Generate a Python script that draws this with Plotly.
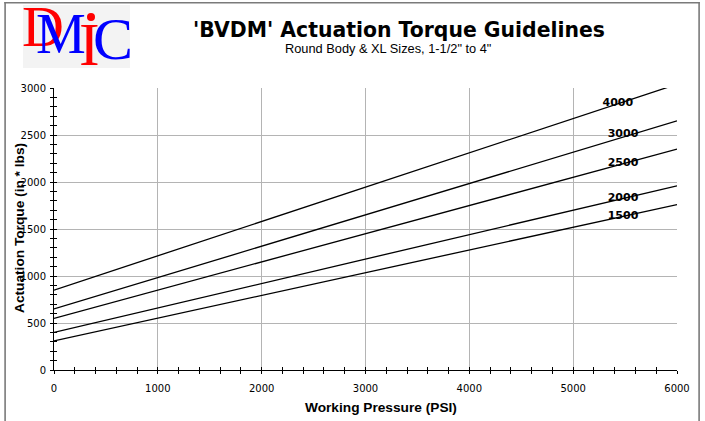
import plotly.graph_objects as go

# ---- data ----
pressure = [0, 6000]
series_names = ["4000", "3000", "2500", "2000", "1500"]
torque_4000 = [850, 3040]
torque_3000 = [650, 2650]
torque_2500 = [550, 2350]
torque_2000 = [400, 1960]
torque_1500 = [310, 1760]
label_x = [5430, 5480, 5480, 5480, 5480]
label_y = [2840, 2510, 2200, 1830, 1640]

x_ticks = [0, 1000, 2000, 3000, 4000, 5000, 6000]
y_ticks = [0, 500, 1000, 1500, 2000, 2500, 3000]

title = "'BVDM' Actuation Torque Guidelines"
subtitle = "Round Body & XL Sizes, 1-1/2\" to 4\""
x_title = "Working Pressure (PSI)"
y_title = "Actuation Torque (in * lbs)"

W, H = 705, 421
L, R, T, B = 54, 677, 88, 370


def px(x):
    return (x - L) / (R - L)


def py(y):
    return (B - y) / (B - T)


fig = go.Figure()
all_series = [torque_4000, torque_3000, torque_2500, torque_2000, torque_1500]
for name, vals in zip(series_names, all_series):
    fig.add_trace(go.Scatter(x=pressure, y=vals, mode="lines", name=name,
                             line=dict(color="black", width=1.3),
                             showlegend=False, hoverinfo="skip"))

fig.add_trace(go.Scatter(x=label_x, y=label_y, mode="text", text=series_names,
                         textfont=dict(family="DejaVu Sans", size=11, color="black",
                                       weight="bold"),
                         showlegend=False, hoverinfo="skip"))

# invisible trace for the overlay axes (inside ticks)
fig.add_trace(go.Scatter(x=[0], y=[0], xaxis="x2", yaxis="y2", mode="markers",
                         marker=dict(opacity=0), showlegend=False, hoverinfo="skip"))

tickfont = dict(family="DejaVu Sans", size=10, color="black")
grid = "#b4b4b4"

fig.update_layout(
    width=W, height=H,
    margin=dict(l=L, r=W - R, t=T, b=H - B, pad=0),
    paper_bgcolor="white", plot_bgcolor="white",
    xaxis=dict(range=[0, 6000], tickvals=x_ticks, showgrid=True, gridcolor=grid,
               gridwidth=1, showline=True, linecolor="black", linewidth=1,
               ticks="outside", ticklen=3, tickcolor="black", tickfont=tickfont,
               minor=dict(dtick=200, ticks="outside", ticklen=3, tickcolor="black",
                          showgrid=False),
               zeroline=False, fixedrange=True, ticklabelstandoff=6),
    yaxis=dict(range=[0, 3000], tickvals=y_ticks, showgrid=True, gridcolor=grid,
               gridwidth=1, showline=True, linecolor="black", linewidth=1,
               ticks="outside", ticklen=3, tickcolor="black", tickfont=tickfont,
               minor=dict(dtick=100, ticks="outside", ticklen=3, tickcolor="black",
                          showgrid=False),
               zeroline=False, fixedrange=True, ticklabelstandoff=2),
    xaxis2=dict(range=[0, 6000], overlaying="x", anchor="y", showgrid=False,
                showline=False, ticks="inside", ticklen=3, tickcolor="black",
                tickvals=x_ticks, showticklabels=False, zeroline=False,
                fixedrange=True,
                minor=dict(dtick=200, ticks="inside", ticklen=3, tickcolor="black")),
    yaxis2=dict(range=[0, 3000], overlaying="y", anchor="x", showgrid=False,
                showline=False, ticks="inside", ticklen=3, tickcolor="black",
                tickvals=y_ticks, showticklabels=False, zeroline=False,
                fixedrange=True,
                minor=dict(dtick=100, ticks="inside", ticklen=3, tickcolor="black")),
)

shapes = []
frame = "#7a7a7a"
# page frame as thin filled bars: left, top, right
for x0, x1, y0, y1 in [(4.3, 5.9, 2.0, 421.0), (4.3, 699.9, 2.0, 3.5),
                       (698.3, 699.9, 2.0, 421.0)]:
    shapes.append(dict(type="rect", xref="paper", yref="paper",
                       x0=px(x0), x1=px(x1), y0=py(y1), y1=py(y0),
                       fillcolor=frame, line=dict(width=0), layer="below"))
# logo background
shapes.append(dict(type="rect", xref="paper", yref="paper", x0=px(23), x1=px(130),
                   y0=py(68), y1=py(5), fillcolor="#f3f3f3", line=dict(width=0),
                   layer="below"))
# dot of the I
shapes.append(dict(type="circle", xref="paper", yref="paper", x0=px(87), x1=px(95),
                   y0=py(21), y1=py(13), fillcolor="#ff0000", line=dict(width=0)))
fig.update_layout(shapes=shapes)

ann = []
ann.append(dict(text="<b>" + title + "</b>", xref="paper", yref="paper",
                x=px(399), y=py(30), xanchor="center", yanchor="middle",
                showarrow=False, font=dict(family="DejaVu Sans", size=20.4, color="black")))
ann.append(dict(text=subtitle, xref="paper", yref="paper",
                x=px(388), y=py(48), xanchor="center", yanchor="middle",
                showarrow=False, font=dict(family="Liberation Sans", size=12.8, color="black")))
ann.append(dict(text="<b>" + x_title + "</b>", xref="paper", yref="paper",
                x=px(381), y=py(407), xanchor="center", yanchor="middle",
                showarrow=False, font=dict(family="Liberation Sans", size=13.7, color="black")))
ann.append(dict(text="<b>" + y_title + "</b>", xref="paper", yref="paper",
                x=px(19), y=py(228), xanchor="center", yanchor="middle", textangle=-90,
                showarrow=False, font=dict(family="Liberation Sans", size=13.7, color="black")))
# logo letters
serif = "Liberation Serif"
ann.append(dict(text="D", xref="paper", yref="paper", x=px(43), y=py(27),
                xanchor="center", yanchor="middle", showarrow=False,
                font=dict(family=serif, size=58, color="#ff0000")))
ann.append(dict(text="M", xref="paper", yref="paper", x=px(61), y=py(34),
                xanchor="center", yanchor="middle", showarrow=False,
                font=dict(family=serif, size=56, color="#0000ff")))
ann.append(dict(text="I", xref="paper", yref="paper", x=px(89), y=py(44),
                xanchor="center", yanchor="middle", showarrow=False,
                font=dict(family=serif, size=62, color="#ff0000")))
ann.append(dict(text="C", xref="paper", yref="paper", x=px(113), y=py(39),
                xanchor="center", yanchor="middle", showarrow=False,
                font=dict(family=serif, size=60, color="#0000ff")))
fig.update_layout(annotations=ann)

fig.write_html("out.html", config={"displayModeBar": False},
               post_script="document.body.style.margin='0px';")
